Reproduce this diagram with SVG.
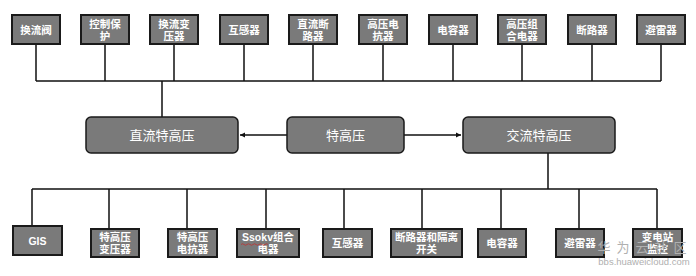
<svg xmlns="http://www.w3.org/2000/svg" width="696" height="276" viewBox="0 0 696 276">
<style>
.b{fill:#7a7a7a;stroke:#1a1a1a;stroke-width:2}
.m{fill:#7a7a7a;stroke:#1a1a1a;stroke-width:1.5}
.t{font-family:"Liberation Sans","Noto Sans CJK SC",sans-serif;font-size:10.5px;font-weight:bold;fill:#fff;text-anchor:middle}
.mt{font-family:"Liberation Sans","Noto Sans CJK SC",sans-serif;font-size:13px;fill:#fff;text-anchor:middle}
.c{stroke:#111;stroke-width:1.5;fill:none}
.w{font-family:"Liberation Sans","Noto Sans CJK SC",sans-serif;fill:#b0b0b0;text-anchor:middle}
</style>
<defs>
<marker id="ah" markerWidth="6" markerHeight="6" refX="5" refY="3" orient="auto" markerUnits="userSpaceOnUse">
<path d="M0,0.5 L5,3 L0,5.5 Z" fill="#111"/>
</marker>
</defs>
<rect width="696" height="276" fill="#fff"/>
<g id="connectors">
<path class="c" d="M36,44V81M105,44V81M174,44V81M244,44V81M313,44V81M383,44V81M453,44V81M522,44V81M592,44V81M661,44V81M36,81H661M162,81V117"/>
<path class="c" d="M287,135H240" marker-end="url(#ah)"/>
<path class="c" d="M404,135H461" marker-end="url(#ah)"/>
<path class="c" d="M548,153V189M32,189H657M32,189V226M109,189V229M187,189V229M266,189V229M344,189V229M422,189V229M501,189V229M579,189V229M657,189V229"/>
</g>
<g id="n1"><rect class="b" x="12" y="15" width="48" height="29"/><text class="t" x="36" y="33.5">换流阀</text></g>
<g id="n2"><rect class="b" x="81" y="15" width="48" height="29"/><text class="t" x="105" y="27.5">控制保<tspan x="105" dy="12">护</tspan></text></g>
<g id="n3"><rect class="b" x="150" y="15" width="48" height="29"/><text class="t" x="174" y="27.5">换流变<tspan x="174" dy="12">压器</tspan></text></g>
<g id="n4"><rect class="b" x="220" y="15" width="48" height="29"/><text class="t" x="244" y="33.5">互感器</text></g>
<g id="n5"><rect class="b" x="289" y="15" width="48" height="29"/><text class="t" x="313" y="27.5">直流断<tspan x="313" dy="12">路器</tspan></text></g>
<g id="n6"><rect class="b" x="359" y="15" width="48" height="29"/><text class="t" x="383" y="27.5">高压电<tspan x="383" dy="12">抗器</tspan></text></g>
<g id="n7"><rect class="b" x="429" y="15" width="48" height="29"/><text class="t" x="453" y="33.5">电容器</text></g>
<g id="n8"><rect class="b" x="498" y="15" width="48" height="29"/><text class="t" x="522" y="27.5">高压组<tspan x="522" dy="12">合电器</tspan></text></g>
<g id="n9"><rect class="b" x="568" y="15" width="48" height="29"/><text class="t" x="592" y="33.5">断路器</text></g>
<g id="n10"><rect class="b" x="637" y="15" width="48" height="29"/><text class="t" x="661" y="33.5">避雷器</text></g>
<g id="dc"><rect class="m" x="86" y="117" width="152" height="36" rx="5"/><text class="mt" x="162" y="139.5">直流特高压</text></g>
<g id="uhv"><rect class="m" x="287" y="117" width="117" height="36" rx="5"/><text class="mt" x="345.5" y="139.5">特高压</text></g>
<g id="ac"><rect class="m" x="463" y="117" width="152" height="36" rx="5"/><text class="mt" x="539" y="139.5">交流特高压</text></g>
<g id="b1"><rect class="b" x="13" y="226" width="49" height="29"/><text class="t" x="37.5" y="244.5">GIS</text></g>
<g id="b2"><rect class="b" x="91" y="229" width="48" height="28"/><text class="t" x="115" y="241">特高压<tspan x="115" dy="12">变压器</tspan></text></g>
<g id="b3"><rect class="b" x="168" y="229" width="49" height="28"/><text class="t" x="192.5" y="241">特高压<tspan x="192.5" dy="12">电抗器</tspan></text></g>
<g id="b4"><rect class="b" x="237" y="229" width="62" height="28"/><text class="t" x="268" y="241">Ssokv组合<tspan x="268" dy="12">电器</tspan></text><path d="M241,244.5 q1.5,-1.5 3,0 t3,0 t3,0 t3,0 t3,0 t3,0 t3,0 t3,0 t3,0" fill="none" stroke="#c03030" stroke-width="0.8"/></g>
<g id="b5"><rect class="b" x="323" y="229" width="49" height="28"/><text class="t" x="347.5" y="247">互感器</text></g>
<g id="b6"><rect class="b" x="391" y="229" width="71" height="28"/><text class="t" x="426.5" y="241">断路器和隔离<tspan x="426.5" dy="12">开关</tspan></text></g>
<g id="b7"><rect class="b" x="478" y="229" width="48" height="28"/><text class="t" x="502" y="247">电容器</text></g>
<g id="b8"><rect class="b" x="556" y="229" width="48" height="28"/><text class="t" x="580" y="247">避雷器</text></g>
<g id="b9"><rect class="b" x="633" y="229" width="49" height="28"/><text class="t" x="657.5" y="241">变电站<tspan x="657.5" dy="12">监控</tspan></text></g>
<g id="watermark"><text class="w" x="645" y="252" font-size="13" letter-spacing="6">华为云社区<tspan x="644" dy="13" font-size="9.5" letter-spacing="0">bbs.huaweicloud.com</tspan></text></g>
</svg>
